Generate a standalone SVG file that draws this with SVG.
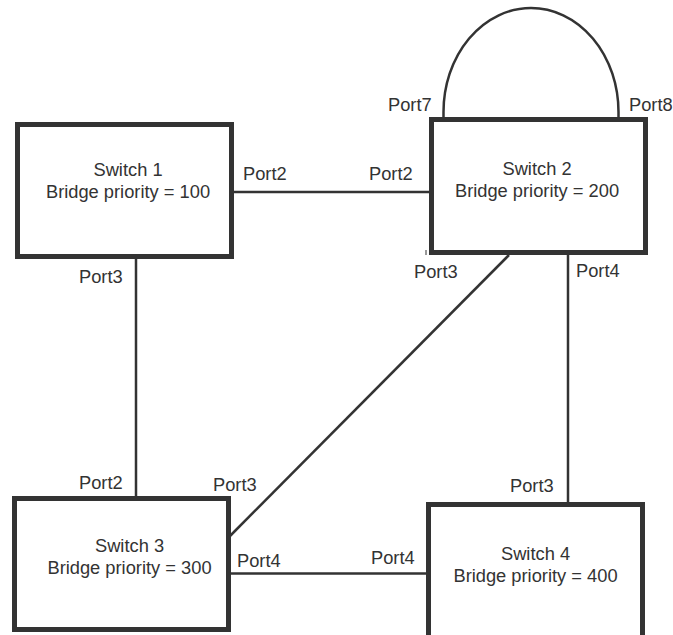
<svg xmlns="http://www.w3.org/2000/svg" width="673" height="635" viewBox="0 0 673 635">
<style>
.box{fill:#fff;stroke:#333;stroke-width:5}
.ln{fill:none;stroke:#333;stroke-width:2.5}
text{font-family:"Liberation Sans",Arial,sans-serif;font-size:18.3px;fill:#333}
.c{text-anchor:middle}
</style>
<rect width="673" height="635" fill="#fff"/>
<g id="connectors">
<line class="ln" x1="234" y1="192" x2="429" y2="192"/>
<line class="ln" x1="136" y1="259" x2="136" y2="496"/>
<line class="ln" x1="509" y1="255" x2="230" y2="536"/>
<line class="ln" x1="568" y1="255" x2="568" y2="502"/>
<line class="ln" x1="231" y1="573.5" x2="426" y2="573.5"/>
<path class="ln" d="M443.5,117 L443.5,112 A87.5,104 0 0 1 618.5,112 L618.5,117"/>
<line x1="426" y1="250" x2="426" y2="255" stroke="#333" stroke-width="1"/>
</g>
<g id="switch1">
<rect class="box" x="17.5" y="124.5" width="214" height="132"/>
<text class="c" x="128" y="176">Switch 1</text>
<text class="c" x="128" y="198">Bridge priority = 100</text>
<text x="243" y="180">Port2</text>
<text x="79" y="283">Port3</text>
</g>
<g id="switch2">
<rect class="box" x="431.5" y="119.5" width="214" height="133"/>
<text class="c" x="537" y="175">Switch 2</text>
<text class="c" x="537" y="197">Bridge priority = 200</text>
<text x="369" y="180">Port2</text>
<text x="388" y="111">Port7</text>
<text x="629" y="111">Port8</text>
<text x="414" y="278">Port3</text>
<text x="576" y="277">Port4</text>
</g>
<g id="switch3">
<rect class="box" x="14.5" y="498.5" width="214" height="131"/>
<text class="c" x="129.5" y="552">Switch 3</text>
<text class="c" x="129.5" y="574">Bridge priority = 300</text>
<text x="79" y="489">Port2</text>
<text x="213" y="491">Port3</text>
<text x="237" y="567">Port4</text>
</g>
<g id="switch4">
<rect class="box" x="428.5" y="504.5" width="214" height="140"/>
<text class="c" x="535.5" y="560">Switch 4</text>
<text class="c" x="535.5" y="582">Bridge priority = 400</text>
<text x="371" y="564">Port4</text>
<text x="510" y="492">Port3</text>
</g>
</svg>
